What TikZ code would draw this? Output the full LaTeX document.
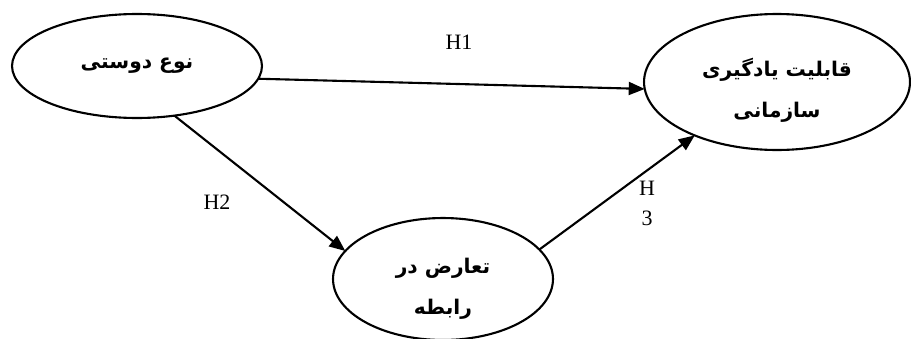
\documentclass[tikz,border=0pt]{standalone}
\usepackage{fontspec}
\setmainfont{Liberation Serif}
\newfontfamily\farsi[Script=Arabic]{DejaVu Sans}
\TeXXeTstate=1
\usetikzlibrary{shapes.geometric,arrows.meta}

\begin{document}
\begin{tikzpicture}[
  x=0.02cm, y=-0.02cm,
  var/.style={draw, ellipse, line width=1.2pt, inner sep=0pt, outer sep=0pt, align=center,
    font=\farsi\bfseries\fontsize{11.5}{23}\selectfont},
  twoline/.style={text height=40pt, text depth=0pt},
  hyp/.style={line width=1.2pt, -{Triangle[length=3.2mm,width=2.6mm]}},
  lab/.style={font=\fontsize{12.5}{17}\selectfont, align=center}
]
\useasboundingbox (0,0) rectangle (911,338);
% constructs
\node[var, minimum width=5cm, minimum height=2.08cm] (altruism) at (137,66) {\beginR نوع دوستی\endR};
\node[var, twoline, minimum width=5.32cm, minimum height=2.72cm] (learning) at (777,82)
  {\beginR قابلیت یادگیری\endR\\\beginR سازمانی\endR};
\node[var, twoline, minimum width=4.4cm, minimum height=2.44cm] (conflict) at (443,279)
  {\beginR تعارض در\endR\\\beginR رابطه\endR};
% hypotheses
\draw[hyp] (altruism.-6) -- (learning.183);
\draw[hyp] (altruism.-53) -- (conflict.164);
\draw[hyp] (conflict.17) -- (learning.213);
\node[lab] (h1) at (459,42) {H1};
\node[lab] (h2) at (217,202) {H2};
\node[lab] (h3) at (647,203) {H\\3};
\end{tikzpicture}
\end{document}
